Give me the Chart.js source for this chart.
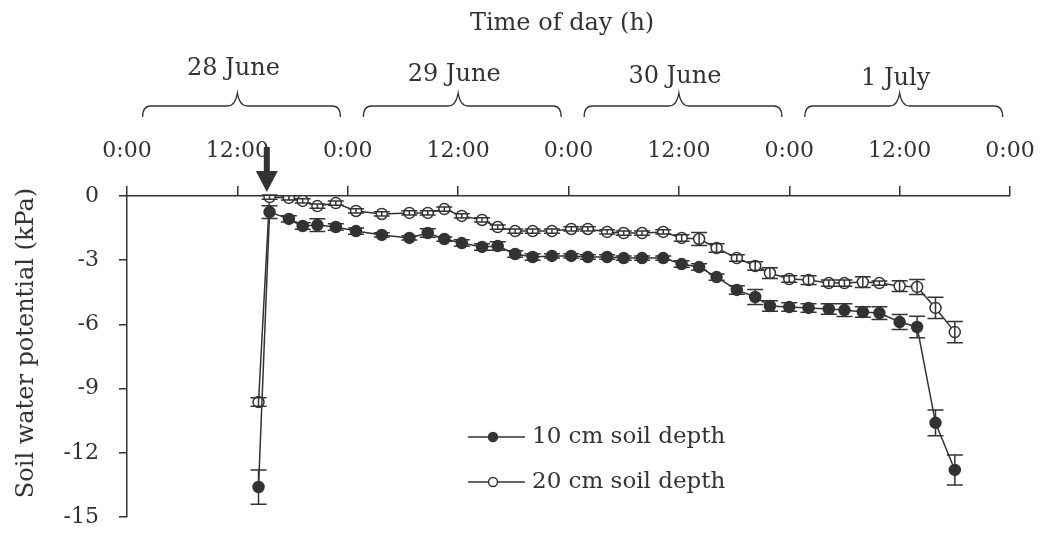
<!DOCTYPE html>
<html>
<head>
<meta charset="utf-8">
<script src="https://cdn.jsdelivr.net/npm/chart.js@4.4.1/dist/chart.umd.min.js"></script>
<style>
  html, body { margin: 0; padding: 0; background: #fff; }
  #wrap { width: 1044px; height: 536px; }
</style>
</head>
<body>
<div id="wrap"><canvas id="chart" width="1044" height="536"></canvas></div>
<script>
// Zaman (28 Haziran 0:00'dan itibaren saat)
const hours = [14.3, 15.5, 17.6, 19.1, 20.7, 22.7, 24.9, 27.7, 30.7, 32.7, 34.5, 36.4, 38.6, 40.3,
  42.2, 44.1, 46.2, 48.3, 50.1, 52.2, 54.0, 56.0, 58.3, 60.3, 62.2, 64.1, 66.3, 68.3, 69.9,
  72.0, 74.1, 76.3, 78.0, 80.0, 81.8, 84.0, 85.9, 87.9, 90.0];

// 10 cm toprak derinliği (kPa)
const depth10 = [-13.6, -0.75, -1.07, -1.40, -1.36, -1.45, -1.64, -1.82, -1.96, -1.73, -2.01, -2.20,
  -2.38, -2.34, -2.71, -2.85, -2.80, -2.80, -2.85, -2.85, -2.90, -2.90, -2.90, -3.18, -3.32, -3.79,
  -4.39, -4.72, -5.14, -5.19, -5.23, -5.28, -5.33, -5.42, -5.47, -5.89, -6.12, -10.6, -12.8];
const depth10Err = [0.8, 0.3, 0.15, 0.15, 0.3, 0.15, 0.15, 0.1, 0.1, 0.2, 0.1, 0.15, 0.15, 0.2, 0.15,
  0.15, 0.1, 0.1, 0.1, 0.1, 0.1, 0.1, 0.1, 0.15, 0.15, 0.15, 0.2, 0.35, 0.25, 0.2, 0.2, 0.25, 0.3,
  0.25, 0.3, 0.35, 0.5, 0.6, 0.7];

// 20 cm toprak derinliği (kPa)
const depth20 = [-9.63, -0.05, -0.09, -0.23, -0.47, -0.33, -0.70, -0.84, -0.79, -0.79, -0.61, -0.93,
  -1.12, -1.45, -1.64, -1.64, -1.64, -1.54, -1.54, -1.68, -1.73, -1.73, -1.68, -1.96, -2.01, -2.43,
  -2.90, -3.27, -3.60, -3.88, -3.93, -4.07, -4.07, -4.02, -4.07, -4.21, -4.25, -5.23, -6.36];
const depth20Err = [0.2, 0.1, 0.1, 0.1, 0.1, 0.1, 0.1, 0.1, 0.1, 0.1, 0.1, 0.1, 0.1, 0.1, 0.1, 0.1,
  0.1, 0.1, 0.1, 0.1, 0.1, 0.1, 0.1, 0.15, 0.3, 0.2, 0.15, 0.2, 0.25, 0.15, 0.2, 0.15, 0.15, 0.25,
  0.1, 0.25, 0.35, 0.5, 0.5];

// Gün etiketleri (başlangıç saati)
const dayLabels = ['28 June', '29 June', '30 June', '1 July'];
const dayStarts = [0, 24, 48, 72];

const seriesLabels = ['10 cm soil depth', '20 cm soil depth'];
const arrowHour = 15.2;

const ink = '#333';
const serif = '"DejaVu Serif", "Liberation Serif", serif';
const dayLabelY = [69, 75, 77, 79];

// Hata çubukları
const errorBarPlugin = {
    id: 'errorBars',
    afterDatasetsDraw(chart) {
        const ctx = chart.ctx;
        const y = chart.scales.y;
        chart.data.datasets.forEach((ds, i) => {
            const meta = chart.getDatasetMeta(i);
            ctx.save();
            ctx.strokeStyle = ink;
            ctx.lineWidth = 1.5;
            meta.data.forEach((pt, j) => {
                const e = ds.errors[j];
                if (!e) return;
                const v = ds.data[j].y;
                const y1 = y.getPixelForValue(v + e);
                const y2 = y.getPixelForValue(v - e);
                ctx.beginPath();
                ctx.moveTo(pt.x, y1); ctx.lineTo(pt.x, y2);
                ctx.moveTo(pt.x - 8, y1); ctx.lineTo(pt.x + 8, y1);
                ctx.moveTo(pt.x - 8, y2); ctx.lineTo(pt.x + 8, y2);
                ctx.stroke();
            });
            ctx.restore();
        });
    }
};

// Başlık, parantezler, ok, lejant
const decorPlugin = {
    id: 'decor',
    afterDraw(chart) {
        const ctx = chart.ctx;
        const x = chart.scales.x;
        const area = chart.chartArea;
        ctx.save();
        ctx.fillStyle = ink;
        ctx.strokeStyle = ink;
        ctx.font = '24px ' + serif;
        ctx.textAlign = 'center';
        ctx.textBaseline = 'middle';
        ctx.fillText('Time of day (h)', x.getPixelForValue(47.3), 24);

        // gün parantezleri
        dayStarts.forEach((d, i) => {
            const x0 = x.getPixelForValue(d + 1.7);
            const x1 = x.getPixelForValue(d + 23.2);
            const xm = x.getPixelForValue(d + 12);
            const yb = 117, yl = 106, yt = 93;
            ctx.lineWidth = 1.3;
            ctx.beginPath();
            ctx.moveTo(x0, yb);
            ctx.quadraticCurveTo(x0, yl, x0 + 8, yl);
            ctx.lineTo(xm - 10, yl);
            ctx.quadraticCurveTo(xm - 2, yl, xm, yt);
            ctx.quadraticCurveTo(xm + 2, yl, xm + 10, yl);
            ctx.lineTo(x1 - 8, yl);
            ctx.quadraticCurveTo(x1, yl, x1, yb);
            ctx.stroke();
            ctx.fillText(dayLabels[i], xm - 4, dayLabelY[i]);
        });

        // y ekseni başlığı
        ctx.save();
        ctx.translate(27, 343);
        ctx.rotate(-Math.PI / 2);
        ctx.fillText('Soil water potential (kPa)', 0, 0);
        ctx.restore();

        // ok
        const ax = x.getPixelForValue(arrowHour);
        ctx.fillRect(ax - 3, 147, 6, 27);
        ctx.beginPath();
        ctx.moveTo(ax - 11, 171);
        ctx.lineTo(ax + 11, 171);
        ctx.lineTo(ax, 192);
        ctx.closePath();
        ctx.fill();

        // lejant
        ctx.font = '23px ' + serif;
        const lx = area.left + 341;
        [437, 482].forEach((ly, i) => {
            ctx.lineWidth = 1.5;
            ctx.beginPath();
            ctx.moveTo(lx, ly); ctx.lineTo(lx + 57, ly);
            ctx.stroke();
            ctx.beginPath();
            ctx.arc(lx + 25, ly, 4.5, 0, Math.PI * 2);
            ctx.fillStyle = i === 0 ? ink : '#fff';
            ctx.fill();
            ctx.stroke();
            ctx.fillStyle = ink;
            ctx.textAlign = 'left';
            ctx.fillText(seriesLabels[i], lx + 64, ly);
        });
        ctx.restore();
    }
};

const ctx = document.getElementById('chart').getContext('2d');
new Chart(ctx, {
    type: 'line',
    data: {
        datasets: [
            {
                label: seriesLabels[0],
                data: hours.map((h, i) => ({ x: h, y: depth10[i] })),
                errors: depth10Err,
                borderColor: ink,
                backgroundColor: ink,
                pointBackgroundColor: ink,
                pointBorderColor: ink,
                pointRadius: 5.5,
                borderWidth: 1.5,
                tension: 0
            },
            {
                label: seriesLabels[1],
                data: hours.map((h, i) => ({ x: h, y: depth20[i] })),
                errors: depth20Err,
                borderColor: ink,
                backgroundColor: '#fff',
                pointBackgroundColor: '#fff',
                pointBorderColor: ink,
                pointBorderWidth: 1.5,
                pointRadius: 5.5,
                borderWidth: 1.5,
                tension: 0
            }
        ]
    },
    options: {
        responsive: false,
        animation: false,
        layout: { padding: { left: 0, right: 34, top: 0, bottom: 19 } },
        plugins: { legend: { display: false }, tooltip: { enabled: false } },
        scales: {
            x: {
                type: 'linear',
                position: 'top',
                min: 0,
                max: 96,
                afterFit: s => { s.height = 196; s.paddingLeft = 0; s.paddingRight = 0; },
                ticks: {
                    stepSize: 12,
                    color: ink,
                    padding: 22,
                    font: { family: serif, size: 22 },
                    callback: v => (v % 24 === 0 ? '0:00' : '12:00')
                },
                grid: { drawOnChartArea: false, drawTicks: true, tickLength: 10, color: ink, lineWidth: 1.5 },
                border: { color: ink, width: 1.5 }
            },
            y: {
                min: -15,
                max: 0,
                afterFit: s => { s.width = 127; s.paddingTop = 0; s.paddingBottom = 0; },
                ticks: {
                    stepSize: 3,
                    color: ink,
                    padding: 20,
                    font: { family: serif, size: 22 }
                },
                grid: { drawOnChartArea: false, drawTicks: true, tickLength: 8, color: ink, lineWidth: 1.5 },
                border: { color: ink, width: 1.5 }
            }
        }
    },
    plugins: [errorBarPlugin, decorPlugin]
});
</script>
</body>
</html>
